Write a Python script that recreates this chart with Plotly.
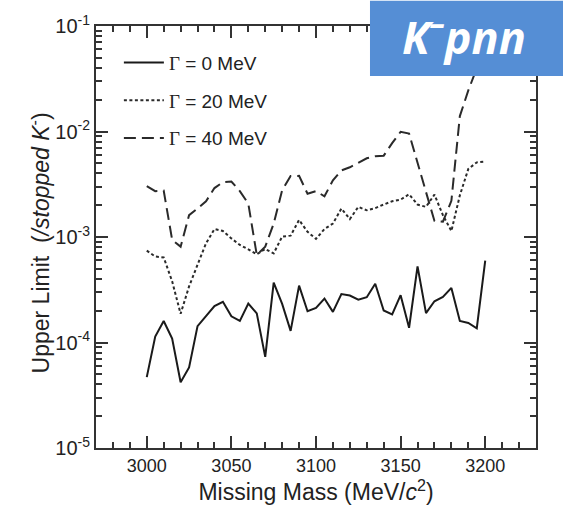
import plotly.graph_objects as go

mass = [3000, 3005, 3010, 3015, 3020, 3025, 3030, 3035, 3040, 3045,
        3050, 3055, 3060, 3065, 3070, 3075, 3080, 3085, 3090, 3095,
        3100, 3105, 3110, 3115, 3120, 3125, 3130, 3135, 3140, 3145,
        3150, 3155, 3160, 3165, 3170, 3175, 3180, 3185, 3190, 3195, 3200]

ul_g0 = [4.7e-5, 1.14e-4, 1.6e-4, 1.09e-4, 4.2e-5, 5.8e-5, 1.43e-4, 1.78e-4, 2.21e-4, 2.43e-4,
         1.77e-4, 1.6e-4, 2.34e-4, 1.89e-4, 7.3e-5, 3.7e-4, 2.32e-4, 1.29e-4, 3.46e-4, 1.98e-4,
         2.13e-4, 2.61e-4, 1.95e-4, 2.88e-4, 2.79e-4, 2.55e-4, 2.69e-4, 3.61e-4, 2.01e-4, 1.85e-4,
         2.81e-4, 1.38e-4, 5.26e-4, 1.90e-4, 2.46e-4, 2.70e-4, 3.29e-4, 1.60e-4, 1.53e-4, 1.36e-4, 5.98e-4]

ul_g20 = [7.43e-4, 6.53e-4, 6.4e-4, 3.8e-4, 1.87e-4, 3.4e-4, 5.46e-4, 8.7e-4, 1.19e-3, 1.14e-3,
          9.7e-4, 8.4e-4, 7.64e-4, 6.86e-4, 7.7e-4, 7.0e-4, 1.01e-3, 1.03e-3, 1.45e-3, 1.12e-3,
          9.6e-4, 1.19e-3, 1.34e-3, 1.86e-3, 1.48e-3, 1.93e-3, 1.79e-3, 1.88e-3, 2.03e-3, 2.18e-3,
          2.26e-3, 2.54e-3, 2.03e-3, 1.93e-3, 2.52e-3, 1.61e-3, 1.14e-3, 2.48e-3, 4.42e-3, 5.1e-3, 5.2e-3]

ul_g40 = [3.04e-3, 2.72e-3, 2.75e-3, 9.4e-4, 8.1e-4, 1.61e-3, 1.86e-3, 2.18e-3, 2.91e-3, 3.31e-3,
          3.36e-3, 2.72e-3, 2.07e-3, 6.76e-4, 8.1e-4, 1.34e-3, 2.77e-3, 3.78e-3, 3.8e-3, 2.57e-3,
          2.72e-3, 2.43e-3, 3.44e-3, 4.27e-3, 4.58e-3, 5.04e-3, 5.57e-3, 5.82e-3, 5.9e-3, 7.76e-3,
          9.93e-3, 9.57e-3, 4.96e-3, 2.67e-3, 1.42e-3, 1.40e-3, 2.2e-3, 1.4e-2, 2.45e-2, 4.0e-2, 6.5e-2]

y_tickvals = [1e-5, 1e-4, 1e-3, 1e-2, 1e-1]
y_ticktext = ["10<sup>-5</sup>", "10<sup>-4</sup>", "10<sup>-3</sup>", "10<sup>-2</sup>", "10<sup>-1</sup>"]

series_names = ["<span style='font-family:Liberation Serif'>Γ</span> = 0 MeV",
                "<span style='font-family:Liberation Serif'>Γ</span> = 20 MeV",
                "<span style='font-family:Liberation Serif'>Γ</span> = 40 MeV"]

FONT = "Arial, Liberation Sans, sans-serif"
AX = "#333333"

fig = go.Figure()
styles = [("solid", "#1a1a1a"), ("3px,2.5px", "#2a2a2a"), ("12px,6px", "#2a2a2a")]
for i, (vals, name) in enumerate(zip([ul_g0, ul_g20, ul_g40], series_names)):
    dash, col = styles[i]
    fig.add_trace(go.Scatter(x=mass, y=vals, mode="lines", name=name,
                             legendgroup=f"g{i}",
                             line=dict(color=col, width=2, dash=dash)))

axis_common = dict(showline=True, linecolor=AX, linewidth=2, mirror="ticks",
                   ticks="inside", ticklen=12, tickwidth=1.5, tickcolor=AX,
                   showgrid=False, zeroline=False)

fig.update_xaxes(range=[2970, 3230], dtick=50, tick0=3000,
                 tickfont=dict(family=FONT, size=18, color="#222"),
                 minor=dict(ticks="inside", ticklen=6, tickwidth=1.5, tickcolor=AX, dtick=10, showgrid=False),
                 title=dict(text="Missing Mass (MeV/<i>c</i><sup>2</sup>)",
                            font=dict(family=FONT, size=23, color="#222"), standoff=6),
                 **axis_common)
fig.update_yaxes(type="log", range=[-5, -1], tickmode="array",
                 tickvals=y_tickvals, ticktext=y_ticktext,
                 tickfont=dict(family=FONT, size=20, color="#222"),
                 minor=dict(ticks="inside", ticklen=6, tickwidth=1.5, tickcolor=AX, dtick="D1", showgrid=False),
                 **axis_common)

fig.update_layout(
    width=563, height=510,
    margin=dict(l=96, r=27, t=23, b=62),
    paper_bgcolor="white", plot_bgcolor="white",
    showlegend=True,
    legend=dict(x=0.052, y=0.958, xanchor="left", yanchor="top",
                bgcolor="rgba(0,0,0,0)", borderwidth=0,
                font=dict(family=FONT, size=19, color="#222"),
                traceorder="grouped", tracegroupgap=10, itemwidth=40),
    shapes=[dict(type="rect", xref="paper", yref="paper",
                 x0=0.6227, x1=1.07, y0=0.8816, y1=1.06,
                 fillcolor="#558ed5", line=dict(width=0), layer="above")],
    annotations=[
        dict(text="<b><i>K<sup>–</sup>pnn</i></b>", xref="paper", yref="paper",
             x=0.836, y=0.98, xanchor="center", yanchor="middle", showarrow=False,
             font=dict(family="Open Sans, sans-serif", size=45, color="white")),
        dict(text="Upper Limit  (<i>/stopped K</i><sup>-</sup>)", xref="paper", yref="paper",
             x=-0.127, y=0.485, xanchor="center", yanchor="middle", textangle=-90,
             showarrow=False, font=dict(family=FONT, size=23, color="#222")),
    ],
)

fig.write_html("out.html")
